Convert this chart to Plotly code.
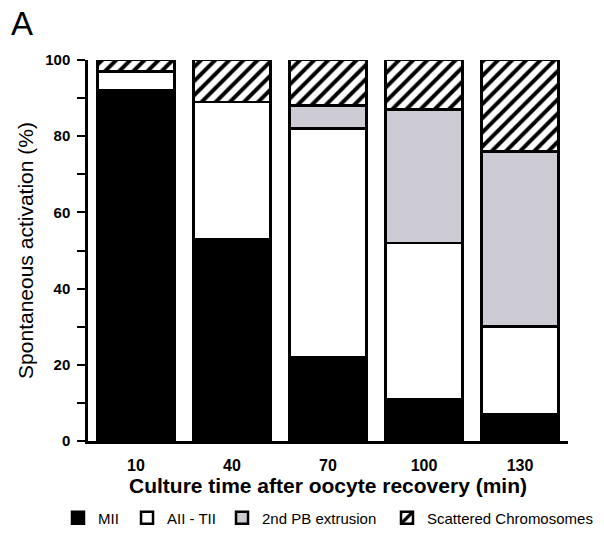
import plotly.graph_objects as go

# Culture time after oocyte recovery (min)
times = ["10", "40", "70", "100", "130"]

# Percent of oocytes in each stage at each time point
mii = [92, 53, 22, 11, 7]
aii_tii = [5, 36, 60, 41, 23]
pb_extrusion = [0, 0, 6, 35, 46]
scattered = [3, 11, 12, 13, 24]

series = [
    ("MII", mii, dict(color="black")),
    ("AII - TII", aii_tii, dict(color="white")),
    ("2nd PB extrusion", pb_extrusion, dict(color="#cdccd4")),
    ("Scattered Chromosomes", scattered,
     dict(color="white",
          pattern=dict(shape="/", fgcolor="black", bgcolor="white",
                       fgopacity=1, size=10, solidity=0.4))),
]

# one single-entry legend per series so each can be placed on the bottom row
legend_names = ["legend", "legend2", "legend3", "legend4"]
legend_x = [-0.0625, 0.0813, 0.2792, 0.6229]

fig = go.Figure()
for (name, vals, marker), lg in zip(series, legend_names):
    fig.add_trace(go.Bar(
        x=times, y=vals, name=name, width=0.8, legend=lg,
        marker=dict(**marker, line=dict(color="black", width=2.5)),
    ))

font_family = "Liberation Sans, Arial, sans-serif"

legend_style = dict(orientation="h", xanchor="left", y=-0.202,
                    yanchor="middle", font=dict(size=15),
                    bgcolor="rgba(0,0,0,0)", itemwidth=30)
legends = {lg: dict(legend_style, x=x) for lg, x in zip(legend_names, legend_x)}

fig.update_layout(
    barmode="stack",
    width=604, height=534,
    margin=dict(l=88, r=36, t=60, b=93, autoexpand=False),
    paper_bgcolor="white", plot_bgcolor="white",
    font=dict(family=font_family, color="black"),
    showlegend=True,
    **legends,
    annotations=[dict(text="A", xref="paper", yref="paper",
                      x=-0.165, y=1.15, xanchor="left", yanchor="top",
                      showarrow=False, font=dict(size=33, color="black"))],
)

fig.update_xaxes(
    showline=True, linewidth=2.5, linecolor="black",
    ticks="", showgrid=False,
    tickfont=dict(size=16, weight="bold"), ticklabelstandoff=8,
    title=dict(text="Culture time after oocyte recovery (min)",
               font=dict(size=21, weight="bold"), standoff=2),
)
fig.update_yaxes(
    range=[0, 100], dtick=20,
    showline=True, linewidth=2.5, linecolor="black",
    ticks="outside", ticklen=8, tickwidth=2, tickcolor="black",
    minor=dict(dtick=10, ticks="outside", ticklen=8, tickwidth=2,
               tickcolor="black"),
    showgrid=False, zeroline=False,
    tickfont=dict(size=15, weight="bold"), ticklabelstandoff=4,
    title=dict(text="Spontaneous activation (%)", font=dict(size=21),
               standoff=6),
)

fig.write_html("out.html")
